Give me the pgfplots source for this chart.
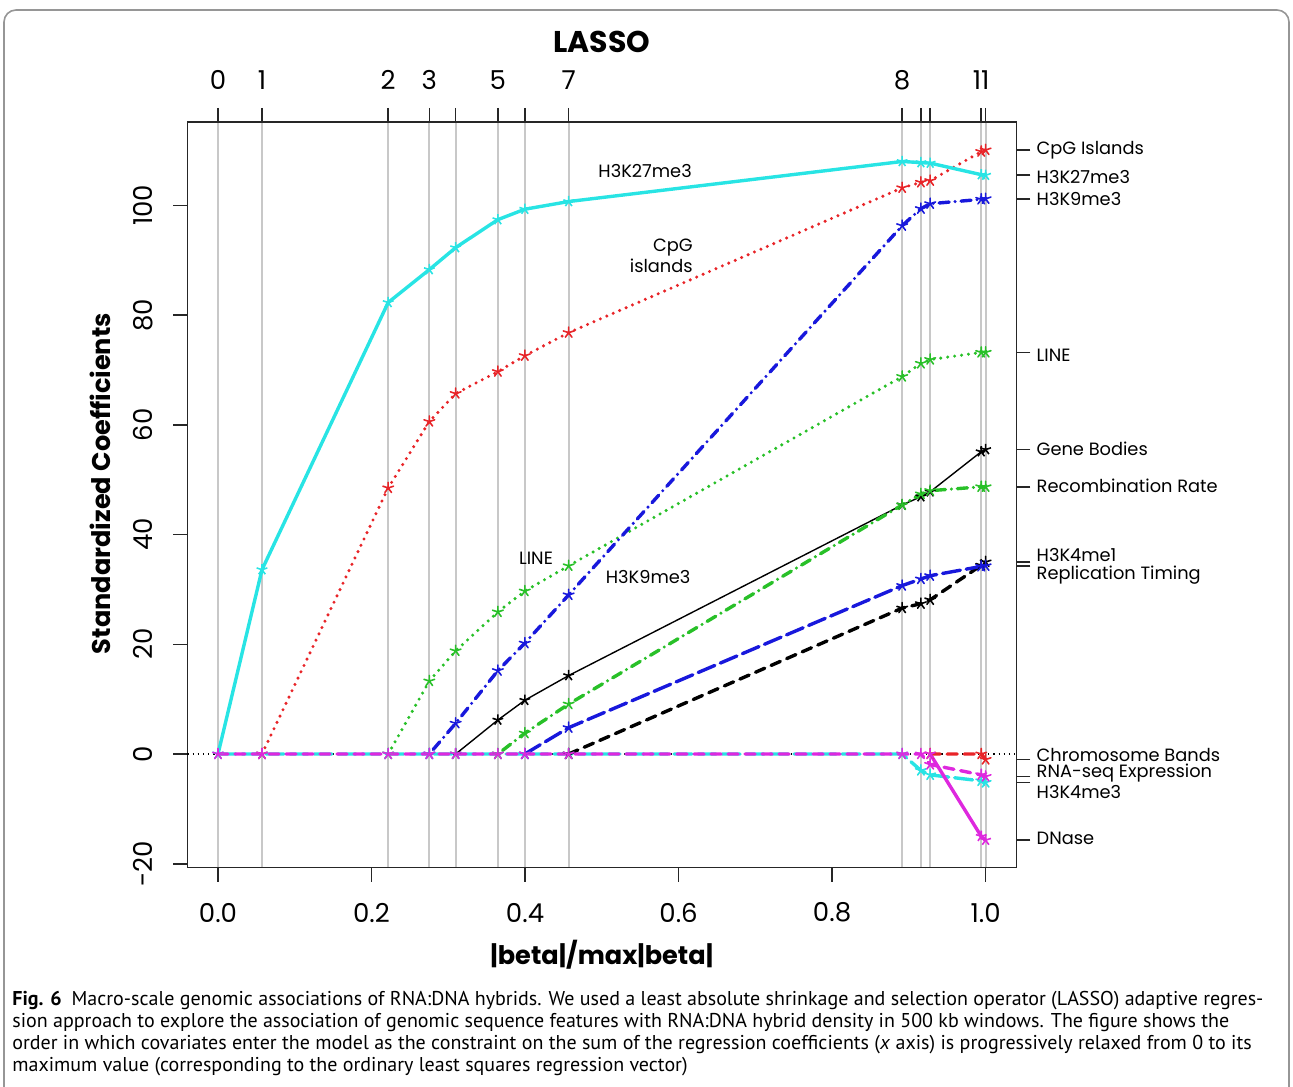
\documentclass[border=0pt]{standalone}
\usepackage{pgfplots}
\usepackage{pgfplotstable}
\pgfplotsset{compat=1.18}
\usepackage{fontspec}
\setmainfont{Poppins}
\newfontfamily\capfont{PT Sans}
\definecolor{rcyan}{RGB}{40,228,228}
\definecolor{rred}{RGB}{232,36,40}
\definecolor{rgreen}{RGB}{40,192,40}
\definecolor{rblue}{RGB}{24,24,220}
\definecolor{rmag}{RGB}{222,40,222}
\definecolor{gridgray}{RGB}{200,200,200}
\definecolor{framegray}{RGB}{150,150,150}

% knots and coefficient paths (12 covariates)
\pgfplotstableread{
x      GB    CB    LINE  KNine KFour DNase KOne  CpG   Rec   RT    KTwo  RNA
0      0     0     0     0     0     0     0     0     0     0     0     0
0.0573 0     0     0     0     0     0     0     0     0     0     33.6  0
0.2217 0     0     0     0     0     0     0     48.5  0     0     82.3  0
0.2753 0     0     13.3  0     0     0     0     60.6  0     0     88.3  0
0.3096 0     0     18.8  5.6   0     0     0     65.7  0     0     92.3  0
0.3646 6.2   0     25.9  15.2  0     0     0     69.7  0     0     97.4  0
0.3997 9.8   0     29.7  20.2  0     0     0     72.6  3.8   0     99.3  0
0.4568 14.3  0     34.3  29.0  0     0     0     76.8  9.1   4.8   100.7 0
0.8913 45.4  0     68.8  96.3  0     0     26.6  103.2 45.4  30.7  108.0 0
0.9157 46.9  0     71.2  99.4  -3.0  0     27.4  104.2 47.4  31.9  107.8 0
0.9278 47.8  0     71.9  100.3 -3.8  0     28.1  104.5 48.0  32.5  107.7 -1.9
0.9943 55.1  0     73.2  101.1 -4.9  -15.0 34.4  109.8 48.7  34.2  105.6 -3.8
1.0    55.5  -1.0  73.2  101.2 -5.2  -15.7 35.0  110.1 48.7  34.3  105.5 -4.1
}\coef

\begin{document}
\begin{tikzpicture}
\useasboundingbox (0,0) rectangle (646.5pt,543pt);
\draw[framegray, line width=0.8pt, rounded corners=6pt] (2pt,-10pt) rectangle (644.5pt,538pt);

\pgfplotsset{
  rbase/.style={
    at={(93.65pt,109.2pt)}, anchor=south west,
    scale only axis, width=414.5pt, height=372.8pt,
    xmin=-0.04, xmax=1.04, ymin=-20.7, ymax=115.2,
    tick align=outside, major tick length=7pt,
    tick style={line width=0.8pt, black!85},
    axis line style={line width=0.8pt, black!85},
  },
  dotted r/.style={line width=1.7pt, line cap=round, dash pattern=on 0pt off 3.5pt},
  dashed r/.style={line width=1.7pt, line cap=round, dash pattern=on 5pt off 3.5pt},
  dotdash r/.style={line width=1.7pt, line cap=round, dash pattern=on 0pt off 3pt on 5pt off 3pt},
  longdash r/.style={line width=1.7pt, line cap=round, dash pattern=on 9pt off 3pt},
  solid r/.style={line width=1.7pt, solid},
  every axis plot/.append style={mark=star, mark size=2.8pt, mark options={solid, line width=0.8pt}},
}

% background axis: knot grid, top axis (steps), right axis (final coefficients)
\begin{axis}[rbase,
  axis x line*=top, axis y line*=right,
  xtick={0,0.0573,0.2217,0.2753,0.3096,0.3646,0.3997,0.4568,0.8913,0.9157,0.9278,0.9943,1.0},
  xticklabels={0,1,2,3,,5,,7,8,,,11,},
  xmajorgrids, grid style={gridgray, line width=1pt},
  ytick={110.1,105.5,101.2,73.2,55.5,48.7,35.0,34.3,-1.0,-4.1,-5.2,-15.7},
  yticklabels={},
  xticklabel style={font=\fontsize{13}{14}\selectfont, anchor=center, yshift=14pt},
  title={LASSO},
  title style={at={(axis description cs:0.5,1.091)}, anchor=center, font=\bfseries\fontsize{15}{17}\selectfont},
  clip=false,
]
\addplot[draw=none, mark=none] coordinates {(0,0)};
\begin{scope}[every node/.style={anchor=west, inner sep=0pt, xshift=10pt, font=\fontsize{8.9}{10}\selectfont}]
\node at (axis cs:1.04,110.0) {CpG Islands};
\node at (axis cs:1.04,105.1) {H3K27me3};
\node at (axis cs:1.04,101.1) {H3K9me3};
\node at (axis cs:1.04,72.7) {LINE};
\node at (axis cs:1.04,55.6) {Gene Bodies};
\node at (axis cs:1.04,48.8) {Recombination Rate};
\node at (axis cs:1.04,36.3) {H3K4me1};
\node at (axis cs:1.04,32.6) {Replication Timing};
\node at (axis cs:1.04,-0.2) {Chromosome Bands};
\node at (axis cs:1.04,-3.5) {RNA-seq Expression};
\node at (axis cs:1.04,-6.9) {H3K4me3};
\node at (axis cs:1.04,-15.3) {DNase};
\end{scope}
\end{axis}

% main axis with the coefficient paths
\begin{axis}[rbase,
  xtick={0,0.2,0.4,0.6,0.8,1.0}, xticklabels={0.0,0.2,0.4,0.6,0.8,1.0},
  ytick={-20,0,20,40,60,80,100}, yticklabels={-20,0,20,40,60,80,100},
  xtick pos=bottom, ytick pos=left,
  ticklabel style={font=\fontsize{13}{14}\selectfont},
  yticklabel style={rotate=90, anchor=center, yshift=15pt},
  xticklabel style={anchor=center, yshift=-15.5pt},
  xlabel={|beta|/max|beta|}, ylabel={Standardized Coefficients},
  label style={font=\bfseries\fontsize{12.8}{14}\selectfont},
  xlabel style={at={(axis description cs:0.5,-0.117)}, anchor=center},
  ylabel style={at={(axis description cs:-0.1053,0.515)}, anchor=center},
  clip=false,
]
\addplot[black, dotted, line width=0.6pt, mark=none] coordinates {(-0.04,0) (1.04,0)};
\addplot[black, line width=0.7pt, solid, restrict x to domain=0.309:1] table[x=x, y=GB] {\coef};
\addplot[rred, dashed r, restrict x to domain=0.927:1] table[x=x, y=CB] {\coef};
\addplot[rgreen, dotted r, restrict x to domain=0.221:1] table[x=x, y=LINE] {\coef};
\addplot[rblue, dotdash r, restrict x to domain=0.275:1] table[x=x, y=KNine] {\coef};
\addplot[rcyan, longdash r] table[x=x, y=KFour] {\coef};
\addplot[rmag, solid r, restrict x to domain=0.927:1] table[x=x, y=DNase] {\coef};
\addplot[black, dashed r, restrict x to domain=0.456:1] table[x=x, y=KOne] {\coef};
\addplot[rred, dotted r, restrict x to domain=0.057:1] table[x=x, y=CpG] {\coef};
\addplot[rgreen, dotdash r, restrict x to domain=0.364:1] table[x=x, y=Rec] {\coef};
\addplot[rblue, longdash r, restrict x to domain=0.399:1] table[x=x, y=RT] {\coef};
\addplot[rcyan, solid r] table[x=x, y=KTwo] {\coef};
\addplot[rmag, dashed r] table[x=x, y=RNA] {\coef};
\begin{scope}[every node/.style={font=\fontsize{8.9}{10.5}\selectfont, inner sep=0pt}]
\node at (axis cs:0.5564,106.2) {H3K27me3};
\node[anchor=east, align=right] at (axis cs:0.6189,90.8) {CpG\\islands};
\node at (axis cs:0.4143,35.7) {LINE};
\node at (axis cs:0.5603,32.3) {H3K9me3};
\end{scope}
\end{axis}

\node[anchor=north west, inner sep=0pt, align=left, font=\capfont\fontsize{10}{11}\selectfont] at (6pt,47.5pt)
{\textbf{Fig. 6}\enspace Macro-scale genomic associations of RNA:DNA hybrids. We used a least absolute shrinkage and selection operator (LASSO) adaptive regres-\\
sion approach to explore the association of genomic sequence features with RNA:DNA hybrid density in 500 kb windows. The figure shows the\\
order in which covariates enter the model as the constraint on the sum of the regression coefficients (\textit{x} axis) is progressively relaxed from 0 to its\\
maximum value (corresponding to the ordinary least squares regression vector)};
\end{tikzpicture}
\end{document}
